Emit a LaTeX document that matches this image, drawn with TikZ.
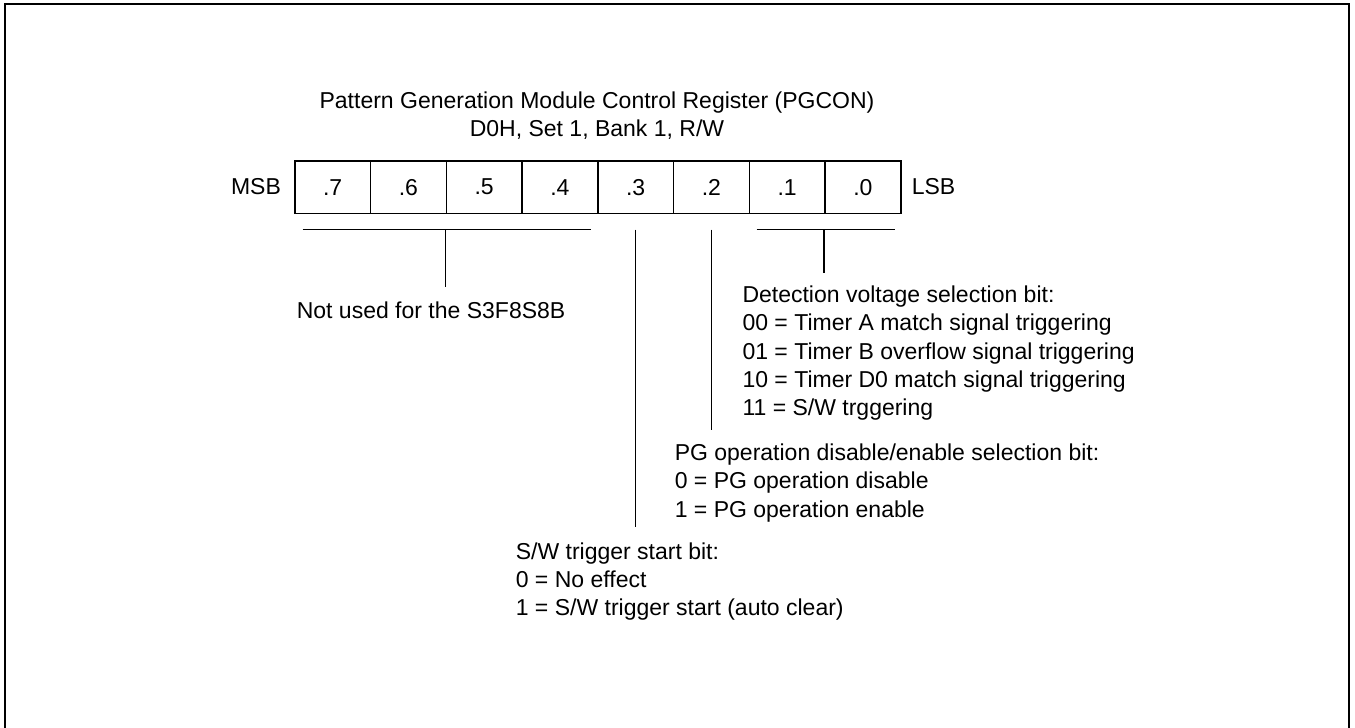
\documentclass[tikz,border=0pt]{standalone}
\usepackage{fontspec}
\setmainfont{Liberation Sans}
\usetikzlibrary{calc}
\begin{document}
\begin{tikzpicture}[x=1pt,y=-1pt,
  font=\fontsize{23}{28.3}\selectfont,
  line width=1.6pt,
  cell/.style={draw, line width=1.6pt, minimum width=75.75pt, minimum height=52.7pt, inner sep=0pt, anchor=north west},
  lbl/.style={inner sep=0pt, anchor=north west, align=left},
  wire/.style={line width=1.6pt}]
\useasboundingbox (0,0) rectangle (1355,728);
% outer frame (open at the bottom)
\draw[line width=2pt] (5,740) -- (5,4) -- (1349,4) -- (1349,740);
% title
\node[inner sep=0pt, anchor=north, align=center] (title) at (597,90.7)
  {Pattern Generation Module Control Register (PGCON)\\D0H, Set 1, Bank 1, R/W};
% register cells
\node[cell] (b7) at (294,160) {.7};
\node[cell] (b6) at (369.75,160) {.6};
\node[cell] (b5) at (445.5,160) {.5};
\node[cell] (b4) at (521.25,160) {.4};
\node[cell] (b3) at (597,160) {.3};
\node[cell] (b2) at (672.75,160) {.2};
\node[cell] (b1) at (748.5,160) {.1};
\node[cell] (b0) at (824.25,160) {.0};
\node[inner sep=0pt, anchor=east] (msb) at (281.7,186.4) {MSB};
\node[inner sep=0pt, anchor=west] (lsb) at (911,186.4) {LSB};
% description texts
\node[lbl] (nu) at (296,301.5) {Not used for the S3F8S8B};
\node[lbl] (det) at (741.7,285) {Detection voltage selection bit:\\00 = Timer A match signal triggering\\01 = Timer B overflow signal triggering\\10 = Timer D0 match signal triggering\\11 = S/W trggering};
\node[lbl] (pg) at (674,443) {PG operation disable/enable selection bit:\\0 = PG operation disable\\1 = PG operation enable};
\node[lbl] (sw) at (515,541.7) {S/W trigger start bit:\\0 = No effect\\1 = S/W trigger start (auto clear)};
% bracket coordinates
\coordinate (bl1) at ($(b7.south west)+(8.7,15.3)$);
\coordinate (bl2) at ($(b4.south east)+(-8,15.3)$);
\coordinate (blm) at ($(b5.south west)+(0,15.3)$);
\coordinate (br1) at ($(b1.south west)+(8,15.3)$);
\coordinate (br2) at ($(b0.south east)+(-7,15.3)$);
\coordinate (brm) at ($(b0.south west)+(0,15.3)$);
\coordinate (t3) at ($(b3.south)+(0,15.3)$);
\coordinate (t2) at ($(b2.south)+(0,15.3)$);
% connectors
\draw[wire] (bl1) -- (bl2);
\draw[wire, shorten >=14.8pt] (blm) -- (blm |- nu.north);
\draw[wire] (br1) -- (br2);
\draw[wire, shorten >=12pt] (brm) -- (brm |- det.north);
\draw[wire, shorten >=13pt] (t2) -- (t2 |- pg.north);
\draw[wire, shorten >=14.7pt] (t3) -- (t3 |- sw.north);
\end{tikzpicture}
\end{document}
